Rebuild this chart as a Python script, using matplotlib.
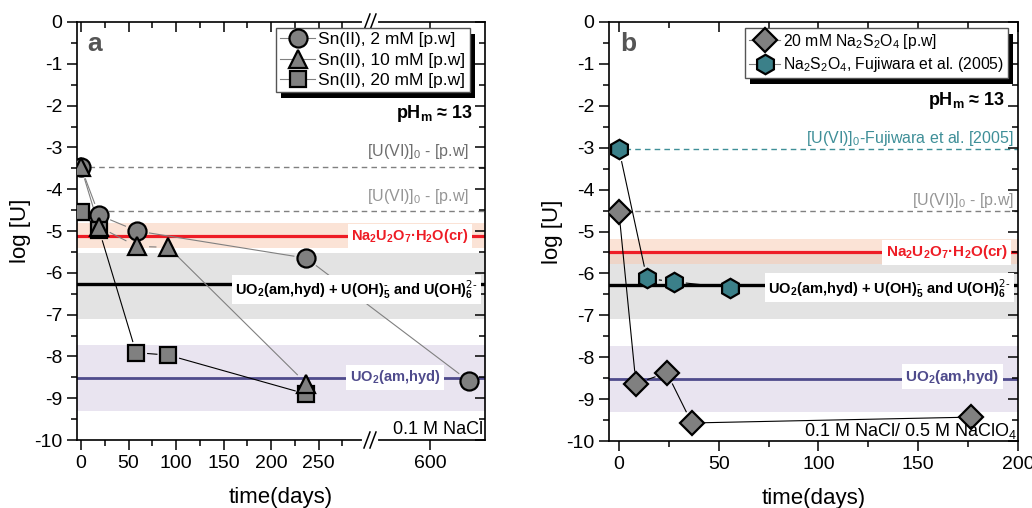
import numpy as np
import matplotlib
matplotlib.use('Agg')
import matplotlib.pyplot as plt
from matplotlib.lines import Line2D, TICKDOWN, TICKLEFT
from matplotlib.patches import Rectangle
from matplotlib.ticker import FixedLocator, MultipleLocator

plt.rcParams['font.family'] = ['Liberation Sans', 'DejaVu Sans']
plt.rcParams['mathtext.default'] = 'regular'
plt.rcParams['axes.unicode_minus'] = False

# ---- panel a : Sn(II) systems, 0.1 M NaCl ----
sn2_t = [0, 19, 59, 237, 641]
sn2_logU = [-3.47, -4.62, -5.0, -5.65, -8.59]
sn10_t = [0, 19, 59, 92, 237]
sn10_logU = [-3.47, -4.9, -5.37, -5.39, -8.65]
sn20_t = [0, 19, 58, 92, 237]
sn20_logU = [-4.54, -4.97, -7.91, -7.97, -8.9]

# ---- panel b : dithionite systems ----
dith_t = [0, 8.5, 24, 36.5, 176.5]
dith_logU = [-4.54, -8.63, -8.37, -9.57, -9.43]
fuji_t = [0, 14, 27.5, 55.5]
fuji_logU = [-3.04, -6.12, -6.2, -6.34]

# solubility references: (line, band low, band high)
na2u2o7_a = (-5.12, -5.41, -4.81)
na2u2o7_b = (-5.5, -5.77, -5.19)
uo2_oh = (-6.27, -7.1, -5.53)
uo2_am = (-8.52, -9.3, -7.73)
u0_a = [-3.47, -4.52]
u0_b_pw = -4.52
u0_b_fuji = -3.04

# broken x axis in panel a
B1, B2 = 304.0, 537.0


def fwd(x):
    x = np.asarray(x, dtype=float)
    return np.where(x <= B1, x, np.where(x >= B2, x - (B2 - B1), B1))


def inv(u):
    u = np.asarray(u, dtype=float)
    return np.where(u <= B1, u, u + (B2 - B1))


GREY = '#808080'
RED = '#ee1c25'
PURPLE = '#4f4b8c'
TEAL = '#3b8089'
TEAL_TXT = '#3f8f98'

NA_LBL = 'Na$_2$U$_2$O$_7$·H$_2$O(cr)'
OH_LBL = r'UO$_2$(am,hyd) + U(OH)$_5^{\text{-}}$ and U(OH)$_6^{\text{2-}}$'
AM_LBL = 'UO$_2$(am,hyd)'

fig = plt.figure(figsize=(10.32, 5.08), dpi=100)
ax_a = fig.add_axes([77/1032, 68/508, 408/1032, 418/508])
ax_b = fig.add_axes([609/1032, 67/508, 409/1032, 419/508])

ax_a.set_xscale('function', functions=(fwd, inv))
ax_a.set_xlim(-4.2, 658)
ax_b.set_xlim(-5, 200)
for ax in (ax_a, ax_b):
    ax.set_ylim(-10, 0)
    ax.yaxis.set_major_locator(MultipleLocator(1))
    ax.yaxis.set_minor_locator(MultipleLocator(0.5))
    ax.tick_params(which='both', direction='out', top=True, right=True, labelsize=14)
    ax.tick_params(which='major', length=7, width=1.1)
    ax.tick_params(which='minor', length=4, width=1.1)
    for s in ax.spines.values():
        s.set_linewidth(1.2)
    ax.set_xlabel('time(days)', fontsize=16, labelpad=11)
    ax.set_ylabel('log [U]', fontsize=16, labelpad=2)

ax_a.xaxis.set_major_locator(FixedLocator([0, 50, 100, 150, 200, 250, 600]))
ax_a.xaxis.set_minor_locator(FixedLocator([25, 75, 125, 175, 225, 275]))
ax_a.xaxis.set_major_formatter(matplotlib.ticker.FormatStrFormatter('%d'))
ax_a.xaxis.set_minor_formatter(matplotlib.ticker.NullFormatter())
ax_b.xaxis.set_major_locator(MultipleLocator(50))
ax_b.xaxis.set_minor_locator(MultipleLocator(25))


def bands(ax, na, uoh, uam):
    ax.axhspan(uoh[1], uoh[2], color='#e3e3e3', lw=0, zorder=0.4)
    ax.axhspan(na[1], na[2], color='#f9c9ae', alpha=0.5, lw=0, zorder=0.5)
    ax.axhspan(uam[1], uam[2], color='#e9e4f0', lw=0, zorder=0.4)
    ax.axhline(na[0], color=RED, lw=2.3, zorder=1)
    ax.axhline(uoh[0], color='black', lw=2.4, zorder=1)
    ax.axhline(uam[0], color=PURPLE, lw=2.0, zorder=1)


def boxed(ax, x, y, s, color, size=11):
    ax.text(x, y, s, color=color, fontsize=size, fontweight='bold', ha='right', va='center',
            transform=ax.get_yaxis_transform(), zorder=2.8,
            bbox=dict(facecolor='white', edgecolor='none', pad=2.5))


def gapped(ax, t, y, gap, **kw):
    # connecting segments stop short of the symbols
    pts = ax.transData.transform(np.column_stack([t, y]))
    back = ax.transData.inverted()
    for p0, p1 in zip(pts[:-1], pts[1:]):
        d = p1 - p0
        n = np.hypot(*d)
        if n <= 2 * gap:
            continue
        u = d / n
        seg = back.transform(np.array([p0 + u * gap, p1 - u * gap]))
        ax.plot(seg[:, 0], seg[:, 1], zorder=2.5, solid_capstyle='butt', **kw)


mk = dict(mec='black', mew=1.6, ls='none', zorder=3)

# panel a
bands(ax_a, na2u2o7_a, uo2_oh, uo2_am)
ax_a.axhline(u0_a[0], xmin=0.03, color=GREY, lw=1, dashes=(4, 3), zorder=1)
ax_a.axhline(u0_a[1], xmin=0.03, color=GREY, lw=1, dashes=(4, 3), zorder=1)
ax_a.text(0.961, u0_a[0] + 0.36, '[U(VI)]$_0$ - [p.w]', color='#6e6e6e', fontsize=11.5,
          ha='right', va='center', transform=ax_a.get_yaxis_transform())
ax_a.text(0.961, u0_a[1] + 0.34, '[U(VI)]$_0$ - [p.w]', color='#959595', fontsize=11.5,
          ha='right', va='center', transform=ax_a.get_yaxis_transform())
boxed(ax_a, 0.96, na2u2o7_a[0], NA_LBL, RED, 10.5)
boxed(ax_a, 0.982, uo2_oh[0] - 0.12, OH_LBL, 'black', 10.5)
boxed(ax_a, 0.89, uo2_am[0] + 0.02, AM_LBL, PURPLE, 10.5)

ax_a.plot(sn2_t, sn2_logU, marker='o', ms=13, mfc=GREY, **mk)
ax_a.plot(sn20_t, sn20_logU, marker='s', ms=11, mfc=GREY, **mk)
ax_a.plot(sn10_t, sn10_logU, marker='^', ms=13, mfc=GREY, **mk)

ax_a.text(0.025, 0.947, 'a', transform=ax_a.transAxes, fontsize=19, fontweight='bold',
          color='#555555', ha='left', va='center')
ax_a.text(0.97, 0.782, 'pH$_m$ ≈ 13', transform=ax_a.transAxes, fontsize=13,
          fontweight='bold', ha='right', va='center')
ax_a.text(0.995, 0.026, '0.1 M NaCl', transform=ax_a.transAxes, fontsize=13,
          ha='right', va='center')

# panel b
bands(ax_b, na2u2o7_b, uo2_oh, uo2_am)
ax_b.axhline(u0_b_fuji, xmin=0.04, color=TEAL_TXT, lw=1, dashes=(4, 3), zorder=1)
ax_b.axhline(u0_b_pw, xmin=0.04, color=GREY, lw=1, dashes=(4, 3), zorder=1)
ax_b.text(0.99, u0_b_fuji + 0.26, '[U(VI)]$_0$-Fujiwara et al. [2005]', color=TEAL_TXT,
          fontsize=11.5, ha='right', va='center', transform=ax_b.get_yaxis_transform())
ax_b.text(0.99, u0_b_pw + 0.26, '[U(VI)]$_0$ - [p.w]', color='#959595',
          fontsize=11.5, ha='right', va='center', transform=ax_b.get_yaxis_transform())
boxed(ax_b, 0.975, na2u2o7_b[0], NA_LBL, RED, 11)
boxed(ax_b, 0.982, uo2_oh[0] - 0.07, OH_LBL, 'black', 10.5)
boxed(ax_b, 0.955, uo2_am[0] + 0.05, AM_LBL, PURPLE, 11)

ax_b.plot(dith_t, dith_logU, marker='D', ms=12, mfc=GREY, **mk)
ax_b.plot(fuji_t, fuji_logU, marker='h', ms=14, mfc=TEAL, **mk)

ax_b.text(0.027, 0.947, 'b', transform=ax_b.transAxes, fontsize=19, fontweight='bold',
          color='#555555', ha='left', va='center')
ax_b.text(0.968, 0.813, 'pH$_m$ ≈ 13', transform=ax_b.transAxes, fontsize=13,
          fontweight='bold', ha='right', va='center')
ax_b.text(0.998, 0.024, '0.1 M NaCl/ 0.5 M NaClO$_4$', transform=ax_b.transAxes,
          fontsize=13, ha='right', va='center')

# connecting lines (need fixed transforms)
gapped(ax_a, sn2_t, sn2_logU, 12, color=GREY, lw=0.8)
gapped(ax_a, sn10_t, sn10_logU, 12, color=GREY, lw=0.8)
gapped(ax_a, sn20_t, sn20_logU, 11, color='black', lw=0.8)
gapped(ax_b, dith_t, dith_logU, 12, color='black', lw=0.8)
gapped(ax_b, fuji_t, fuji_logU, 12, color='black', lw=0.8)

# break marks on panel a
xb = ax_a.transAxes.inverted().transform(ax_a.transData.transform((B1, -5)))[0]
px, py = 1 / 408, 1 / 418
for yb in (0, 1):
    ax_a.plot([xb - 6 * px, xb + 6 * px], [yb, yb], color='white', lw=3,
              transform=ax_a.transAxes, clip_on=False, zorder=4)
    for off in (-3, 3):
        ax_a.plot([xb + (off - 3) * px, xb + (off + 3) * px], [yb - 8 * py, yb + 8 * py],
                  color='black', lw=1.1, transform=ax_a.transAxes, clip_on=False, zorder=4.1)

# legends with offset shadow
lg = dict(loc='upper right', fancybox=False, framealpha=1, edgecolor='#555555',
          borderpad=0.25, handlelength=2.0, handletextpad=0.2, labelspacing=0.3,
          borderaxespad=0, facecolor='white')


def proxy(marker, ms, fc):
    return Line2D([0], [0], color=GREY, lw=0.8, marker=marker, ms=ms, mfc=fc,
                  mec='black', mew=1.6)


leg_a = ax_a.legend([proxy('o', 13, GREY), proxy('^', 13, GREY), proxy('s', 11, GREY)],
                    ['Sn(II), 2 mM [p.w]', 'Sn(II), 10 mM [p.w]', 'Sn(II), 20 mM [p.w]'],
                    bbox_to_anchor=(0.963, 0.986), fontsize=12.5, **lg)
leg_b = ax_b.legend([proxy('D', 12, GREY), proxy('h', 14, TEAL)],
                    ['20 mM Na$_2$S$_2$O$_4$ [p.w]', 'Na$_2$S$_2$O$_4$, Fujiwara et al. (2005)'],
                    bbox_to_anchor=(0.976, 0.986), fontsize=11.3, **lg)

fig.canvas.draw()
for ax, leg in ((ax_a, leg_a), (ax_b, leg_b)):
    bb = leg.get_window_extent()
    (x0, y0), (x1, y1) = ax.transAxes.inverted().transform([[bb.x0 + 5, bb.y0 - 6],
                                                            [bb.x1 + 5, bb.y1 - 6]])
    ax.add_patch(Rectangle((x0, y0), x1 - x0, y1 - y0, transform=ax.transAxes,
                           facecolor='black', edgecolor='none', clip_on=False, zorder=4.9))
    # top / right ticks point inward
    for t in ax.xaxis.get_major_ticks() + ax.xaxis.get_minor_ticks():
        t.tick2line.set_marker(TICKDOWN)
    for t in ax.yaxis.get_major_ticks() + ax.yaxis.get_minor_ticks():
        t.tick2line.set_marker(TICKLEFT)

fig.savefig('out.png', dpi=100)
